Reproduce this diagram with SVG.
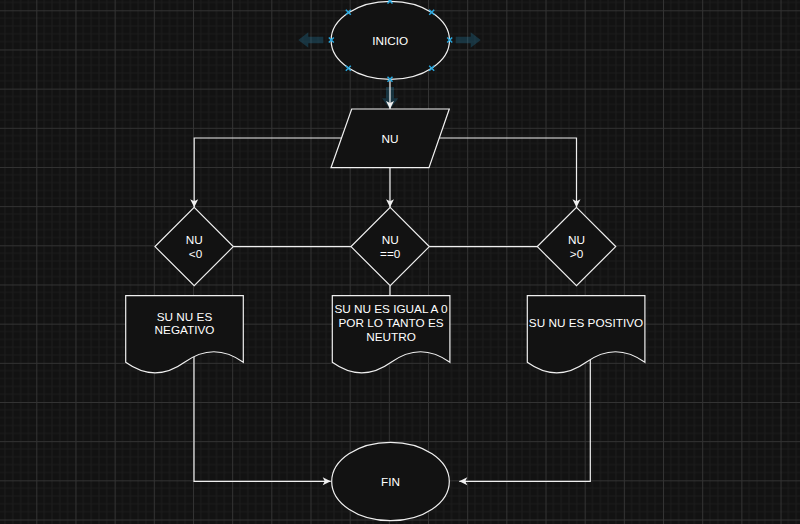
<svg xmlns="http://www.w3.org/2000/svg" width="800" height="524" viewBox="0 0 800 524">
<defs>
<pattern id="grid" patternUnits="userSpaceOnUse" x="36.3" y="10.3" width="39.17" height="39.17">
<rect width="39.17" height="39.17" fill="#121212"/>
<path d="M7.83,0V39.17M15.67,0V39.17M23.5,0V39.17M31.33,0V39.17M0,7.83H39.17M0,15.67H39.17M0,23.5H39.17M0,31.33H39.17" stroke="#1c1c1c" stroke-width="1" fill="none"/>
<path d="M0.5,0V39.17M0,0.5H39.17" stroke="#333333" stroke-width="1" fill="none"/>
</pattern>
<marker id="arr" markerUnits="userSpaceOnUse" markerWidth="10" markerHeight="10" refX="8" refY="4" orient="auto" overflow="visible">
<path d="M0,0 L8,4 L0,8 L2,4 Z" fill="#f0f0f0"/>
</marker>
<style>
.shape{fill:#121212;stroke:#f0f0f0;stroke-width:1.2}
.edge{fill:none;stroke:#f0f0f0;stroke-width:1.2}
.lbl{font-family:"Liberation Sans",Arial,sans-serif;font-size:11.75px;fill:#ffffff;text-anchor:middle;dominant-baseline:central}
.hover{fill:#29a9e0;opacity:0.22}
.handle{stroke:#29a9e0;stroke-width:1.5;fill:none}
</style>
</defs>
<rect width="800" height="524" fill="url(#grid)"/>

<g id="hover-arrows">
<polygon class="hover" points="298.3,40 308.3,32.3 308.3,36.7 323.3,36.7 323.3,43.3 308.3,43.3 308.3,47.7"/>
<polygon class="hover" points="480.7,40 470.7,32.3 470.7,36.7 455.7,36.7 455.7,43.3 470.7,43.3 470.7,47.7"/>
<polygon class="hover" points="386,87 394,87 394,98.3 398.3,98.3 390,109.3 382,98.3 386,98.3"/>
</g>

<g id="connectors">
<line class="edge" x1="390" y1="79.3" x2="390" y2="109" marker-end="url(#arr)"/>
<polyline class="edge" points="341.3,138 194.2,138 194.2,207.3" marker-end="url(#arr)"/>
<line class="edge" x1="390" y1="167.7" x2="390" y2="207.3" marker-end="url(#arr)"/>
<polyline class="edge" points="439.2,138 576.5,138 576.5,207.3" marker-end="url(#arr)"/>
<line class="edge" x1="233.3" y1="246.6" x2="351" y2="246.6"/>
<line class="edge" x1="429.3" y1="246.6" x2="537.3" y2="246.6"/>
<line class="edge" x1="390" y1="285.7" x2="390" y2="295.7"/>
<polyline class="edge" points="194,357 194,481.3 330.7,481.3" marker-end="url(#arr)"/>
<polyline class="edge" points="590.3,359.5 590.3,481.3 459.3,481.3" marker-end="url(#arr)"/>
</g>

<g id="inicio">
<ellipse class="shape" cx="390.3" cy="40.3" rx="59.2" ry="39"/>
<text class="lbl" x="390.3" y="40.3">INICIO</text>
<path class="handle" d="M387.5,-1.5l5,5m0,-5l-5,5 M345.8,9.8l5,5m0,-5l-5,5 M429.2,9.8l5,5m0,-5l-5,5 M328.8,37.5l5,5m0,-5l-5,5 M447.2,37.5l5,5m0,-5l-5,5 M345.8,65.8l5,5m0,-5l-5,5 M429.2,65.8l5,5m0,-5l-5,5 M387.5,76.8l5,5m0,-5l-5,5"/>
</g>

<g id="nu-input">
<polygon class="shape" points="351.7,109 449.3,109 429,167.7 331,167.7"/>
<text class="lbl" x="390" y="138.3">NU</text>
</g>

<g id="dec-neg">
<polygon class="shape" points="194.2,207.3 233.3,246.6 194.2,285.7 155,246.6"/>
<text class="lbl" x="194.2" y="239">NU</text>
<text class="lbl" x="195.5" y="253.3">&lt;0</text>
</g>

<g id="dec-zero">
<polygon class="shape" points="390.2,207.3 429.3,246.6 390.2,285.7 351,246.6"/>
<text class="lbl" x="390.2" y="239">NU</text>
<text class="lbl" x="390.2" y="253.3">==0</text>
</g>

<g id="dec-pos">
<polygon class="shape" points="576.5,207.3 615.7,246.6 576.5,285.7 537.3,246.6"/>
<text class="lbl" x="576.5" y="239">NU</text>
<text class="lbl" x="576.5" y="253.3">&gt;0</text>
</g>

<g id="doc-neg">
<path class="shape" d="M125.7,295.7 H243.3 V362.3 Q213.9,341.2 184.5,362.3 Q155.1,383.5 125.7,362.3 Z"/>
<text class="lbl" x="184.5" y="316">SU NU ES</text>
<text class="lbl" x="184.5" y="329.5">NEGATIVO</text>
</g>

<g id="doc-zero">
<path class="shape" d="M332.3,295.7 H449.9 V362.3 Q420.5,341.2 391.1,362.3 Q361.7,383.5 332.3,362.3 Z"/>
<text class="lbl" x="391" y="308.7">SU NU ES IGUAL A 0</text>
<text class="lbl" x="391" y="322.3">POR LO TANTO ES</text>
<text class="lbl" x="391" y="336">NEUTRO</text>
</g>

<g id="doc-pos">
<path class="shape" d="M527.3,295.7 H644.9 V362.3 Q615.5,341.2 586.1,362.3 Q556.7,383.5 527.3,362.3 Z"/>
<text class="lbl" x="586" y="322">SU NU ES POSITIVO</text>
</g>

<g id="fin">
<ellipse class="shape" cx="390.5" cy="481.5" rx="58.8" ry="39.2"/>
<text class="lbl" x="390.5" y="481.5">FIN</text>
</g>
</svg>
